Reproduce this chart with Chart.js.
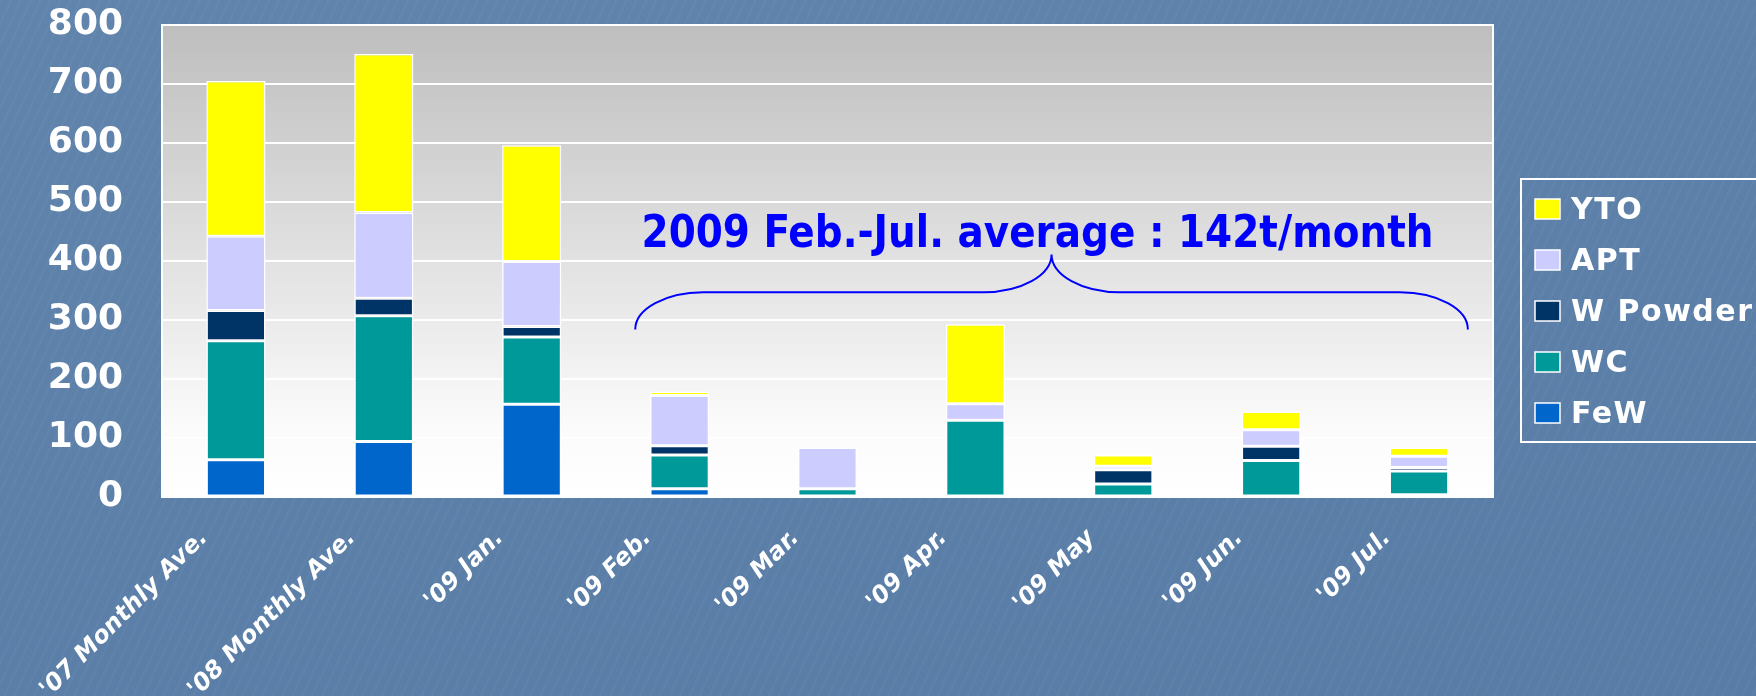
<!DOCTYPE html>
<html>
<head>
<meta charset="utf-8">
<script src="https://cdn.jsdelivr.net/npm/chart.js@4.4.1/dist/chart.umd.min.js"></script>
<style>
html, body { margin: 0; padding: 0; }
body {
    width: 1756px;
    height: 696px;
    overflow: hidden;
    background: #5b7fa8;
    background-image:
        repeating-linear-gradient(115deg, rgba(255,255,255,0.03) 0px, rgba(255,255,255,0.03) 2px, rgba(0,0,0,0) 2px, rgba(0,0,0,0) 9px),
        linear-gradient(170deg, #6084ac, #587ca5);
}
#wrap { position: relative; width: 1756px; height: 696px; }
</style>
</head>
<body>
<div id="wrap"><canvas id="supplyChart" width="1756" height="696"></canvas></div>
<script>
// categories and stacked series (tonnes per month), bottom to top
const categories = ["'07 Monthly Ave.", "'08 Monthly Ave.", "'09 Jan.", "'09 Feb.", "'09 Mar.", "'09 Apr.", "'09 May", "'09 Jun.", "'09 Jul."];
const fewValues = [63, 94, 157, 14, 0, 0, 0, 0, 4];
const wcValues = [202, 213, 114, 57, 14, 130, 22, 62, 40];
const wPowderValues = [51, 30, 18, 16, 0, 0, 24, 24, 6];
const aptValues = [126, 145, 110, 85, 70, 28, 6, 28, 19];
const ytoValues = [263, 269, 197, 7, 0, 135, 19, 31, 15];

const yMin = 0;
const yMax = 800;
const yStep = 100;

// brace annotation over Feb..Jul
const noteText = '2009 Feb.-Jul. average : 142t/month';
const noteFromIndex = 3;
const noteToIndex = 8;
const braceEndValue = 284;
const braceMidValue = 347;
const bracePeakValue = 411;
const noteTextValue = 443;

const plotBackground = {
    id: 'plotBackground',
    beforeDraw(chart) {
        const { ctx, chartArea } = chart;
        const grad = ctx.createLinearGradient(0, chartArea.top, 0, chartArea.bottom);
        grad.addColorStop(0, '#bebebe');
        grad.addColorStop(0.45, '#dedede');
        grad.addColorStop(0.85, '#fbfbfb');
        grad.addColorStop(1, '#ffffff');
        ctx.save();
        ctx.fillStyle = grad;
        ctx.fillRect(chartArea.left, chartArea.top, chartArea.right - chartArea.left, chartArea.bottom - chartArea.top);
        ctx.restore();
    },
    afterDraw(chart) {
        // white frame round the plot area
        const { ctx, chartArea } = chart;
        ctx.save();
        ctx.strokeStyle = '#ffffff';
        ctx.lineWidth = 2;
        ctx.strokeRect(chartArea.left, chartArea.top, chartArea.right - chartArea.left, chartArea.bottom - chartArea.top);
        ctx.restore();
    }
};

const braceNote = {
    id: 'braceNote',
    afterDatasetsDraw(chart) {
        const { ctx } = chart;
        const x = chart.scales.x;
        const y = chart.scales.y;
        const cat = x.getPixelForTick(1) - x.getPixelForTick(0);
        const xL = x.getPixelForTick(noteFromIndex) - cat * 0.3;
        const xR = x.getPixelForTick(noteToIndex) + cat * 0.33;
        const xP = (xL + xR) / 2;
        const yE = y.getPixelForValue(braceEndValue);
        const yH = y.getPixelForValue(braceMidValue);
        const yP = y.getPixelForValue(bracePeakValue);
        const r = 68;
        const k = 0.55;

        ctx.save();
        ctx.strokeStyle = '#0000ff';
        ctx.lineWidth = 2;
        ctx.beginPath();
        ctx.moveTo(xL, yE);
        ctx.bezierCurveTo(xL, yE - (yE - yH) * k, xL + r - r * k, yH, xL + r, yH);
        ctx.lineTo(xP - r, yH);
        ctx.bezierCurveTo(xP - r + r * k, yH, xP, yH - (yH - yP) * (1 - k), xP, yP);
        ctx.bezierCurveTo(xP, yH - (yH - yP) * (1 - k), xP + r - r * k, yH, xP + r, yH);
        ctx.lineTo(xR - r, yH);
        ctx.bezierCurveTo(xR - r + r * k, yH, xR, yE - (yE - yH) * k, xR, yE);
        ctx.stroke();

        // note text, squeezed to the width it has in the slide
        ctx.font = 'bold 45px "DejaVu Sans Condensed", "DejaVu Sans", sans-serif';
        ctx.fillStyle = '#0000ff';
        ctx.textBaseline = 'middle';
        const w = ctx.measureText(noteText).width;
        const target = 792;
        const cx = xP - 14;
        ctx.translate(cx - target / 2, y.getPixelForValue(noteTextValue));
        ctx.scale(target / w, 1);
        ctx.textAlign = 'left';
        ctx.fillText(noteText, 0, 0);
        ctx.restore();
    }
};

const sideLegend = {
    id: 'sideLegend',
    afterDraw(chart) {
        const { ctx, chartArea } = chart;
        const left = chartArea.right + 28;
        const top = 179;
        const bottom = 442;
        ctx.save();
        ctx.strokeStyle = '#ffffff';
        ctx.lineWidth = 2;
        ctx.strokeRect(left, top, 300, bottom - top);

        const sets = chart.data.datasets.slice().reverse();
        ctx.font = 'bold 30px "DejaVu Sans", sans-serif';
        ctx.letterSpacing = '1.5px';
        ctx.textBaseline = 'middle';
        ctx.textAlign = 'left';
        sets.forEach((ds, i) => {
            const cy = top + 30 + i * 51;
            ctx.fillStyle = ds.backgroundColor;
            ctx.fillRect(left + 14, cy - 10, 25, 20);
            ctx.strokeStyle = '#ffffff';
            ctx.lineWidth = 1.5;
            ctx.strokeRect(left + 14, cy - 10, 25, 20);
            ctx.fillStyle = '#ffffff';
            ctx.fillText(ds.label, left + 50, cy + 2);
        });
        ctx.restore();
    }
};

function makeSet(label, data, color) {
    return {
        label: label,
        data: data,
        backgroundColor: color,
        borderColor: '#ffffff',
        borderWidth: 1.5,
        borderSkipped: false,
        barPercentage: 0.4,
        categoryPercentage: 1.0
    };
}

const ctx = document.getElementById('supplyChart').getContext('2d');
const supplyChart = new Chart(ctx, {
    type: 'bar',
    data: {
        labels: categories,
        datasets: [
            makeSet('FeW', fewValues, '#0066cc'),
            makeSet('WC', wcValues, '#009999'),
            makeSet('W Powder', wPowderValues, '#003366'),
            makeSet('APT', aptValues, '#ccccff'),
            makeSet('YTO', ytoValues, '#ffff00')
        ]
    },
    options: {
        responsive: false,
        animation: false,
        devicePixelRatio: 1,
        layout: {
            padding: { left: 0, right: 263, top: 25, bottom: 0 }
        },
        plugins: {
            legend: { display: false },
            tooltip: { enabled: false },
            title: { display: false }
        },
        scales: {
            x: {
                stacked: true,
                grid: { display: false, drawTicks: false },
                border: { display: true, color: '#ffffff', width: 2 },
                ticks: {
                    color: '#ffffff',
                    autoSkip: false,
                    minRotation: 45,
                    maxRotation: 45,
                    labelOffset: -32,
                    padding: 27,
                    font: { family: '"DejaVu Sans", sans-serif', size: 24, weight: 'bold', style: 'italic' }
                },
                afterFit(scale) {
                    scale.height = 199;
                    scale.paddingLeft = 0;
                    scale.paddingRight = 0;
                }
            },
            y: {
                stacked: true,
                min: yMin,
                max: yMax,
                grid: { color: '#ffffff', lineWidth: 2, drawTicks: false },
                border: { display: true, color: '#ffffff', width: 2 },
                ticks: {
                    stepSize: yStep,
                    color: '#ffffff',
                    padding: 39,
                    font: { family: '"DejaVu Sans", sans-serif', size: 36, weight: 'bold' }
                },
                afterFit(scale) {
                    scale.width = 162;
                    scale.paddingTop = 20;
                    scale.paddingBottom = 20;
                }
            }
        }
    },
    plugins: [plotBackground, braceNote, sideLegend]
});
</script>
</body>
</html>
